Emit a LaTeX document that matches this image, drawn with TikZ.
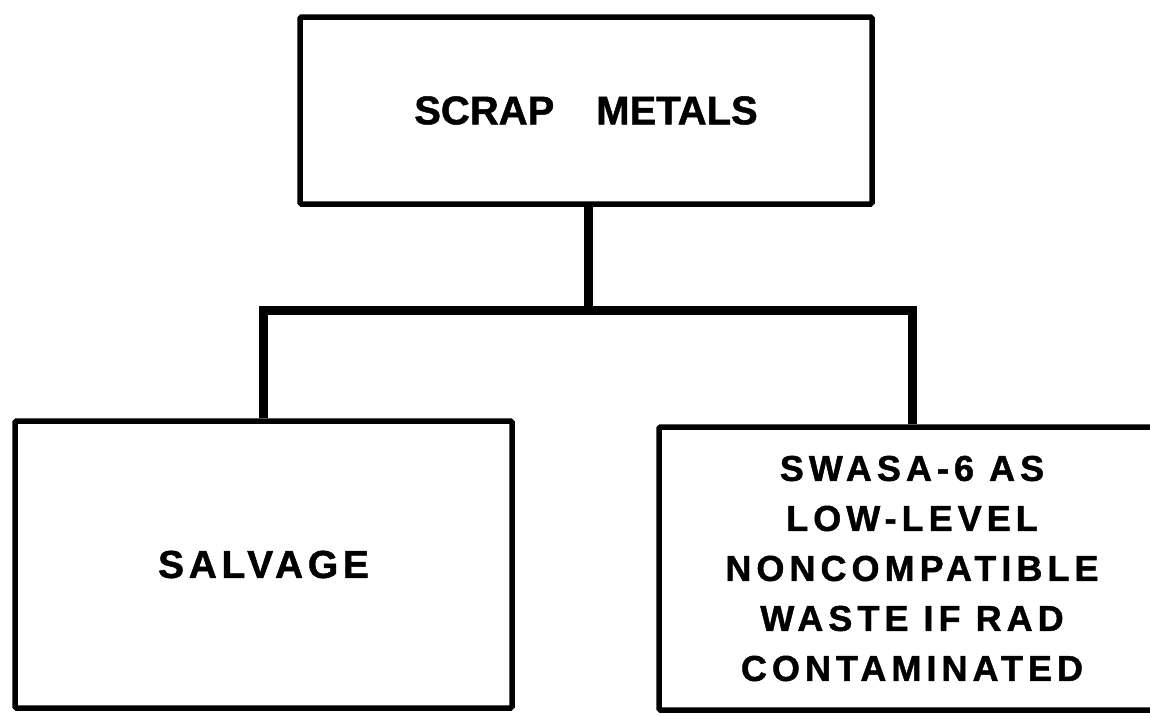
\documentclass[tikz,border=0pt]{standalone}
\usepackage{fontspec}
\setmainfont{Liberation Sans}
\newfontfamily\scrapfont{Liberation Sans}[FakeBold=1.2]
\newfontfamily\salvfont{Liberation Sans}[LetterSpace=12, FakeBold=1.2]
\newfontfamily\wastefont{Liberation Sans}[LetterSpace=14, FakeBold=1.2]
\tikzset{
  boxnode/.style={draw=black, line width=5.5pt, rectangle, inner sep=0pt, rounded corners=1.5pt},
  conn/.style={draw=black, line width=9pt, line join=miter, line cap=butt},
}
\begin{document}
\begin{tikzpicture}[x=1pt,y=-1pt]
\useasboundingbox (0,0) rectangle (1150,715);
\clip (0,0) rectangle (1150,715);
\fill[white] (0,0) rectangle (1150,715);
\node[boxnode, minimum width=572pt, minimum height=187pt,
      font=\scrapfont\bfseries\fontsize{40}{48}\selectfont] (scrap) at (586,110.5)
      {SCRAP\hspace{42pt}METALS};
\node[boxnode, minimum width=497pt, minimum height=287pt,
      font=\salvfont\bfseries\fontsize{39}{46}\selectfont] (salv) at (263.5,564.5)
      {SALVAGE};
\node[boxnode, minimum width=506pt, minimum height=283pt, align=center,
      font=\wastefont\bfseries\fontsize{36}{50}\selectfont] (waste) at (912,568.5)
      {SWASA-6 AS\\LOW-LEVEL\\NONCOMPATIBLE\\WASTE IF RAD\\CONTAMINATED};
\coordinate (bus) at (588,310);
\draw[conn] (scrap.south -| bus) -- (bus);
\draw[conn] (salv.north) -- (salv.north |- bus) -- (waste.north |- bus) -- (waste.north);
\end{tikzpicture}
\end{document}
